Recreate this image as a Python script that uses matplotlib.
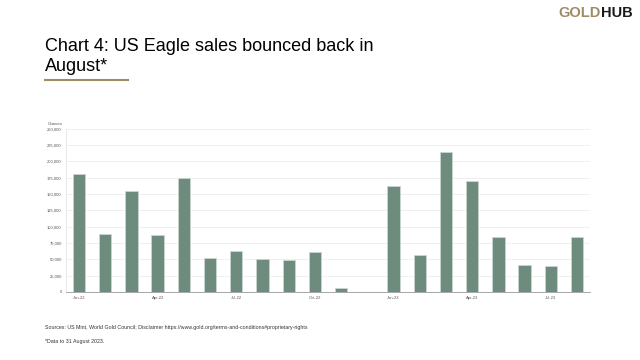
import numpy as np
import matplotlib.pyplot as plt

months = ["Jan-22", "Feb-22", "Mar-22", "Apr-22", "May-22", "Jun-22", "Jul-22",
          "Aug-22", "Sep-22", "Oct-22", "Nov-22", "Dec-22", "Jan-23", "Feb-23",
          "Mar-23", "Apr-23", "May-23", "Jun-23", "Jul-23", "Aug-23"]
ounces = [181500, 89000, 155500, 87000, 174500, 51500, 63500,
          50500, 49000, 61500, 6000, np.nan, 163000, 56500,
          214500, 170000, 85000, 42000, 40500, 85000]
tick_months = ["Jan-22", "Apr-22", "Jul-22", "Oct-22", "Jan-23", "Apr-23", "Jul-23"]
yticks = list(range(0, 250001, 25000))

plt.rcParams["font.family"] = ["Liberation Sans", "DejaVu Sans"]

fig = plt.figure(figsize=(6.4, 3.6), dpi=100)
ax = fig.add_axes([0.103, 0.189, 0.819, 0.453])

x = np.arange(len(months))
vals = np.array(ounces, dtype=float)
mask = ~np.isnan(vals)
ax.bar(x[mask], vals[mask], width=0.47, color="#6d8c7e",
       edgecolor="#c9d6cf", linewidth=0.6, zorder=3)

ax.set_xlim(-0.5, len(months) - 0.5)
ax.set_ylim(0, 250000)
ax.set_yticks(yticks)
ax.set_yticklabels([f"{v:,}" for v in yticks], fontsize=3, color="#555555")
ax.set_xticks([months.index(m) for m in tick_months])
ax.set_xticklabels(tick_months, fontsize=3, color="#555555")
ax.tick_params(axis="both", length=0, pad=3)
ax.grid(axis="y", color="#ececec", linewidth=0.6, zorder=0)
for s in ["top", "right"]:
    ax.spines[s].set_visible(False)
ax.spines["left"].set_color("#e6e6e6")
ax.spines["left"].set_linewidth(0.6)
ax.spines["bottom"].set_color("#999999")
ax.spines["bottom"].set_linewidth(0.6)

ax.text(-0.035, 1.02, "Ounces", transform=ax.transAxes, fontsize=3.2,
        color="#555555", ha="left", va="bottom")

# header
fig.text(45 / 640, 1 - 51 / 360, "Chart 4: US Eagle sales bounced back in",
         fontsize=13, color="black", ha="left", va="baseline")
fig.text(45 / 640, 1 - 71 / 360, "August*",
         fontsize=13, color="black", ha="left", va="baseline")
fig.add_artist(plt.Line2D([45 / 640, 128 / 640], [1 - 79.5 / 360, 1 - 79.5 / 360],
                          color="#a08c64", linewidth=1.5))
fig.text(601 / 640, 1 - 13 / 360, "GOLD", fontsize=10.5, color="#a08c64",
         ha="right", va="center", fontweight="bold")
fig.text(601 / 640, 1 - 13 / 360, "HUB", fontsize=10.5, color="#1a1a1a",
         ha="left", va="center", fontweight="bold")

# footer
fig.text(45 / 640, 1 - 327 / 360,
         "Sources: US Mint, World Gold Council; Disclaimer https://www.gold.org/terms-and-conditions#proprietary-rights",
         fontsize=3.8, color="#333333", ha="left", va="center")
fig.text(45 / 640, 1 - 342 / 360, "*Data to 31 August 2023.",
         fontsize=3.8, color="#333333", ha="left", va="center")

fig.savefig("out.png", dpi=100)
